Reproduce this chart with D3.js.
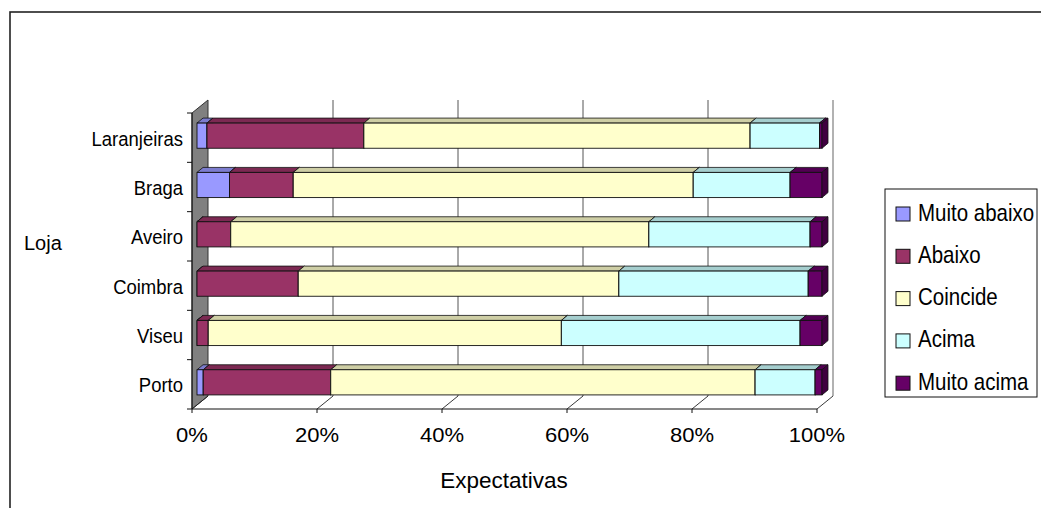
<!DOCTYPE html>
<html>
<head>
<meta charset="utf-8">
<script src="https://cdn.jsdelivr.net/npm/d3@7"></script>
<style>
  html, body { margin: 0; padding: 0; background: #fff; }
  svg { display: block; font-family: "Liberation Sans", Arial, sans-serif; }
</style>
</head>
<body>
<svg id="chart" width="1041" height="508"></svg>
<script>
// Stores, top to bottom
const lojas = ["Laranjeiras", "Braga", "Aveiro", "Coimbra", "Viseu", "Porto"];
const series = ["Muito abaixo", "Abaixo", "Coincide", "Acima", "Muito acima"];
const colors = ["#9999FF", "#993366", "#FFFFCC", "#CCFFFF", "#660066"];
const tickValues = [0, 0.2, 0.4, 0.6, 0.8, 1.0];

// Share of answers (%) per store, one array per expectation level
const muitoAbaixo = [1.6, 5.2, 0.0, 0.0, 0.0, 1.0];
const abaixo      = [25.1, 10.2, 5.4, 16.2, 1.8, 20.4];
const coincide    = [61.8, 64.0, 66.9, 51.3, 56.5, 67.9];
const acima       = [11.1, 15.5, 25.8, 30.3, 38.2, 9.6];
const muitoAcima  = [0.4, 5.1, 1.9, 2.2, 3.5, 1.1];

const table = lojas.map((loja, i) => ({
  loja,
  "Muito abaixo": muitoAbaixo[i],
  "Abaixo": abaixo[i],
  "Coincide": coincide[i],
  "Acima": acima[i],
  "Muito acima": muitoAcima[i]
}));

const svg = d3.select("#chart");

// 100% stacked: normalise each row
const stack = d3.stack().keys(series).offset(d3.stackOffsetExpand);
const stacked = stack(table);

// Front plane of the 3D box
const x = d3.scaleLinear().domain([0, 1]).range([192, 817]);
const y = d3.scaleBand().domain(lojas).range([113, 409]).paddingInner(0.49).paddingOuter(0.245);
const yBand = d3.scaleBand().domain(lojas).range([113, 409]);
const depth = { dx: 16, dy: -13 };       // full depth of the chart box
const barOff = { dx: 5, dy: -2 };        // bar front plane inside the box
const barDepth = { dx: 6, dy: -5 };      // depth of each bar

const color = d3.scaleOrdinal().domain(series).range(colors);

// Outer chart frame
svg.append("rect")
  .attr("x", 10).attr("y", 12).attr("width", 1100).attr("height", 600)
  .attr("fill", "none").attr("stroke", "#222").attr("stroke-width", 1.6);

const x0 = x(0), x1 = x(1), yTop = 113, yBot = 409;

// Back wall gridlines
svg.append("g").selectAll("line")
  .data(tickValues.slice(1, -1))
  .join("line")
  .attr("x1", d => x(d) + depth.dx).attr("x2", d => x(d) + depth.dx)
  .attr("y1", yTop + depth.dy).attr("y2", yBot + depth.dy)
  .attr("stroke", "#555").attr("stroke-width", 1);

// Right edge of the back wall
svg.append("line")
  .attr("x1", x1 + depth.dx).attr("x2", x1 + depth.dx)
  .attr("y1", yTop + depth.dy).attr("y2", yBot + depth.dy)
  .attr("stroke", "#999").attr("stroke-width", 1.5);

// Left side wall (grey)
svg.append("path")
  .attr("d", d3.line()([
    [x0, yTop], [x0 + depth.dx, yTop + depth.dy],
    [x0 + depth.dx, yBot + depth.dy], [x0, yBot]
  ]) + "Z")
  .attr("fill", "#808080").attr("stroke", "#333").attr("stroke-width", 1);

// Floor: depth lines at each tick
svg.append("g").selectAll("line")
  .data(tickValues)
  .join("line")
  .attr("x1", d => x(d)).attr("y1", yBot)
  .attr("x2", d => x(d) + depth.dx).attr("y2", yBot + depth.dy)
  .attr("stroke", "#222").attr("stroke-width", 0.9);

// Bars (3D blocks)
const gBars = svg.append("g");
lojas.forEach((loja, i) => {
  const top = y(loja) + barOff.dy;
  const bot = top + y.bandwidth();
  stacked.forEach(layer => {
    const seg = layer[i];
    const a = x(seg[0]) + barOff.dx, b = x(seg[1]) + barOff.dx;
    const c = d3.color(color(layer.key));
    const g = gBars.append("g");
    // top face
    g.append("path")
      .attr("d", d3.line()([[a, top], [b, top], [b + barDepth.dx, top + barDepth.dy], [a + barDepth.dx, top + barDepth.dy]]) + "Z")
      .attr("fill", c.darker(0.6)).attr("stroke", "#111").attr("stroke-width", 0.8);
    // front face
    g.append("rect")
      .attr("x", a).attr("y", top).attr("width", Math.max(0, b - a)).attr("height", bot - top)
      .attr("fill", c).attr("stroke", "#111").attr("stroke-width", 0.9);
    // right face
    g.append("path")
      .attr("d", d3.line()([[b, top], [b + barDepth.dx, top + barDepth.dy], [b + barDepth.dx, bot + barDepth.dy], [b, bot]]) + "Z")
      .attr("fill", c.darker(1.3)).attr("stroke", "#111").attr("stroke-width", 0.8);
  });
});

// Vertical axis (front edge)
svg.append("line")
  .attr("x1", x0).attr("x2", x0).attr("y1", yTop).attr("y2", yBot)
  .attr("stroke", "#111").attr("stroke-width", 1);
svg.append("g").selectAll("line")
  .data(lojas.concat(["__end"]))
  .join("line")
  .attr("x1", x0 - 5).attr("x2", x0)
  .attr("y1", (d, i) => yTop + i * yBand.step())
  .attr("y2", (d, i) => yTop + i * yBand.step())
  .attr("stroke", "#111");

// Horizontal axis (front edge of floor)
svg.append("line")
  .attr("x1", x0).attr("x2", x1).attr("y1", yBot).attr("y2", yBot)
  .attr("stroke", "#111").attr("stroke-width", 1);
svg.append("g").selectAll("line")
  .data(tickValues)
  .join("line")
  .attr("x1", d => x(d)).attr("x2", d => x(d))
  .attr("y1", yBot).attr("y2", yBot + 4)
  .attr("stroke", "#111");

// Text helper with independent horizontal / vertical scaling
function label(txt, px, py, size, sx, sy, anchor) {
  svg.append("text")
    .attr("transform", `translate(${px},${py}) scale(${sx},${sy})`)
    .attr("font-size", size)
    .attr("text-anchor", anchor || "start")
    .attr("fill", "#000")
    .text(txt);
}

// Category labels
lojas.forEach(l => {
  label(l, 183, yBand(l) + yBand.bandwidth() / 2 + 8, 18.5, 1, 1.12, "end");
});

// Tick labels
const fmt = d3.format(".0%");
tickValues.forEach(v => label(fmt(v), x(v), 442, 19.5, 1.13, 1, "middle"));

// Axis titles
label("Expectativas", 504, 488, 22.5, 1, 1, "middle");
label("Loja", 24, 250, 20, 1, 1, "start");

// Legend
svg.append("rect")
  .attr("x", 885).attr("y", 189).attr("width", 152).attr("height", 208)
  .attr("fill", "#fff").attr("stroke", "#111").attr("stroke-width", 1);
series.forEach((s, i) => {
  const sy = 207 + i * 42.3;
  svg.append("rect")
    .attr("x", 896).attr("y", sy).attr("width", 14).attr("height", 14)
    .attr("fill", color(s)).attr("stroke", "#111").attr("stroke-width", 1);
  label(s, 918, sy + 13.5, 20.5, 1, 1.15, "start");
});
</script>
</body>
</html>
